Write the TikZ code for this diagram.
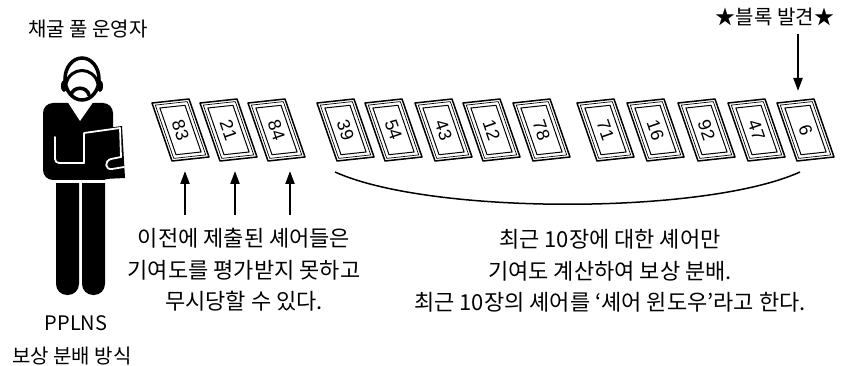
\documentclass[tikz,border=0pt]{standalone}
\usepackage{fontspec}
\setmainfont{Noto Sans CJK KR}
\newfontfamily\numfont{Liberation Sans}
\usetikzlibrary{arrows.meta}

% a share card: slanted frame with a double edge and a rotated number
\tikzset{
  pics/sharecard/.style={code={
    \draw[line width=1.5pt, line join=round] (0,0) -- (37,-4) -- (57,54) -- (20,58) -- cycle;
    \draw[line width=0.7pt, line join=round] (3.3,2.1) -- (35.3,-1.4) -- (53.7,51.9) -- (21.7,55.4) -- cycle;
    \draw[line width=1.0pt, line join=round] (7.9,5) -- (33,2.3) -- (49.1,49) -- (24,51.7) -- cycle;
    \node[rotate=-71, inner sep=0pt, font=\numfont\fontsize{18}{18}\selectfont] at (28.5,27) {#1};
  }}
}

\begin{document}
\begin{tikzpicture}[x=1pt, y=-1pt,
  tag/.style={inner sep=0pt, font=\fontsize{20}{24}\selectfont},
  note/.style={inner sep=0pt, align=center, font=\fontsize{22}{31.5}\selectfont},
  pointer/.style={line width=2.2pt, -{Triangle[length=13pt, width=9pt]}},
  outline/.style={white, line width=1.8pt, line cap=round, line join=round}]

\useasboundingbox (0,0) rectangle (841,366);

% ---- pool operator ----
\node[tag] (operator) at (88,29) {채굴 풀 운영자};

% legs
\fill[rounded corners=11pt] (56,170) rectangle (79,295);
\fill[rounded corners=11pt] (82,170) rectangle (105,295);
% torso
\fill[rounded corners=10pt] (43,103) rectangle (113,180);
\draw[white, line width=2.2pt] (44,181.6) -- (118,181.6);
% neck opening
\fill[white] (67,101) -- (80,121) -- (94,101) -- cycle;
% clipboard held in front
\fill (84,131) -- (122,126) -- (125,178) -- (84,180) -- cycle;
\draw[outline] (84,163) -- (84,133) -- (120,128) -- (121,157);
\draw[outline] (121,157) -- (111,159) .. controls (104,161) and (105,170) .. (112,169) -- (124,167);
% arm line
\draw[outline, rounded corners=4pt] (55,137) -- (55,163) -- (84,163);
% head
\draw[line width=3.5pt] (82,79) ellipse (17pt and 21pt);
\draw[line width=3pt] (66,84) .. controls (70,66) and (94,66) .. (98,84);
\fill (64,86) ellipse (3pt and 6pt);
\fill (100,86) ellipse (3pt and 6pt);
\draw[line width=3.6pt, line cap=round] (71,95) .. controls (73,86) and (87,86) .. (89,95);

\node[tag] (scheme) at (76,323) {PPLNS};
\node[tag] (schemeko) at (72,356) {보상 분배 방식};

% ---- submitted shares ----
\foreach \px/\num in {152/83, 200/21, 248/84,
                      317/39, 365/54, 415/43, 463/12, 513/78,
                      577/71, 627/16, 678/92, 728/47, 777/6}
  \pic at (\px,103) {sharecard=\num};

% block found
\node[tag] (found) at (775,17) {★블록 발견★};
\coordinate (foundtail) at (798,34);
\coordinate (foundhead) at (798,91);
\draw[pointer] (foundtail) -- (foundhead);

% ignored shares
\node[note] (oldnote) at (244,270) {이전에 제출된 셰어들은\\기여도를 평가받지 못하고\\무시당할 수 있다.};
\foreach \ax [count=\i] in {185,235,290} {
  \coordinate (up\i tail) at (\ax,215);
  \coordinate (up\i head) at (\ax,171);
  \draw[pointer] (up\i tail) -- (up\i head);
}

% share window
\coordinate (winL) at (335,172);
\coordinate (winR) at (800,172);
\draw[line width=1.5pt] (winL) .. controls (430,215) and (705,215) .. (winR);
\node[note] (windownote) at (610,271) {최근 10장에 대한 셰어만\\기여도 계산하여 보상 분배.\\최근 10장의 셰어를 ‘셰어 윈도우’라고 한다.};

\end{tikzpicture}
\end{document}
